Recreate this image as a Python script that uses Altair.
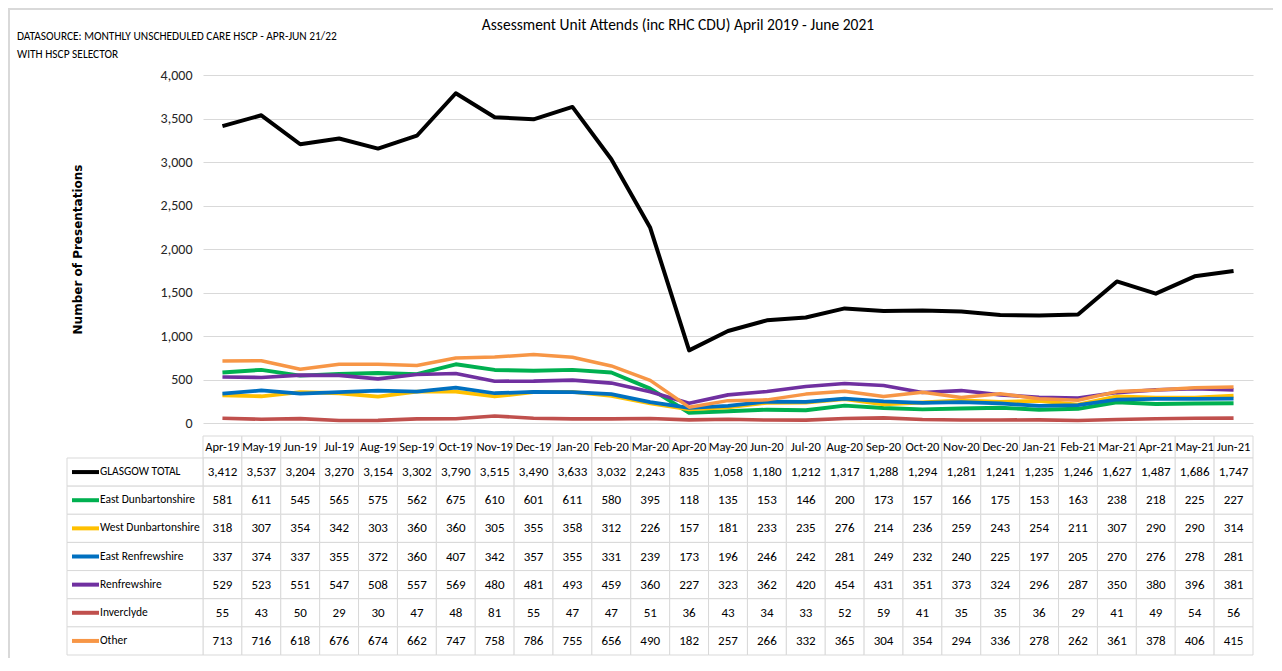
import altair as alt
import pandas as pd

months = ["Apr-19", "May-19", "Jun-19", "Jul-19", "Aug-19", "Sep-19", "Oct-19", "Nov-19", "Dec-19",
          "Jan-20", "Feb-20", "Mar-20", "Apr-20", "May-20", "Jun-20", "Jul-20", "Aug-20", "Sep-20",
          "Oct-20", "Nov-20", "Dec-20", "Jan-21", "Feb-21", "Mar-21", "Apr-21", "May-21", "Jun-21"]

series_names = ["GLASGOW TOTAL", "East Dunbartonshire", "West Dunbartonshire", "East Renfrewshire",
                "Renfrewshire", "Inverclyde", "Other"]

glasgow_total = [3412, 3537, 3204, 3270, 3154, 3302, 3790, 3515, 3490, 3633, 3032, 2243, 835, 1058,
                 1180, 1212, 1317, 1288, 1294, 1281, 1241, 1235, 1246, 1627, 1487, 1686, 1747]
east_dunbartonshire = [581, 611, 545, 565, 575, 562, 675, 610, 601, 611, 580, 395, 118, 135, 153, 146,
                       200, 173, 157, 166, 175, 153, 163, 238, 218, 225, 227]
west_dunbartonshire = [318, 307, 354, 342, 303, 360, 360, 305, 355, 358, 312, 226, 157, 181, 233, 235,
                       276, 214, 236, 259, 243, 254, 211, 307, 290, 290, 314]
east_renfrewshire = [337, 374, 337, 355, 372, 360, 407, 342, 357, 355, 331, 239, 173, 196, 246, 242,
                     281, 249, 232, 240, 225, 197, 205, 270, 276, 278, 281]
renfrewshire = [529, 523, 551, 547, 508, 557, 569, 480, 481, 493, 459, 360, 227, 323, 362, 420, 454,
                431, 351, 373, 324, 296, 287, 350, 380, 396, 381]
inverclyde = [55, 43, 50, 29, 30, 47, 48, 81, 55, 47, 47, 51, 36, 43, 34, 33, 52, 59, 41, 35, 35, 36,
              29, 41, 49, 54, 56]
other = [713, 716, 618, 676, 674, 662, 747, 758, 786, 755, 656, 490, 182, 257, 266, 332, 365, 304, 354,
         294, 336, 278, 262, 361, 378, 406, 415]

colors = ["#000000", "#00B050", "#FFC000", "#0070C0", "#7030A0", "#C0504D", "#F79646"]
line_widths = [4, 3.5, 3.5, 3.5, 3.5, 3.5, 3.5]

title_text = "Assessment Unit Attends (inc RHC CDU) April 2019 - June 2021"
source_lines = ["DATASOURCE: MONTHLY UNSCHEDULED CARE HSCP - APR-JUN 21/22", "WITH HSCP SELECTOR"]

all_vals = [glasgow_total, east_dunbartonshire, west_dunbartonshire, east_renfrewshire,
            renfrewshire, inverclyde, other]
rows = []
for name, vals in zip(series_names, all_vals):
    for m, v in zip(months, vals):
        rows.append({"month": m, "series": name, "value": v})
df = pd.DataFrame(rows)
hdr_df = pd.DataFrame({"month": months})
lbl_df = pd.DataFrame({"series": series_names})

FONT = "Carlito, Lato, sans-serif"
W, H = 1050, 580
PLOT_H = 348
HDR_TOP, ROW_TOP, ROW_BOT = 361, 383, 580
GRID = "#d9d9d9"

xscale = alt.Scale(type="band", domain=months, paddingInner=0, paddingOuter=0)
x_enc = alt.X("month:N", scale=xscale, axis=None)
color = alt.Color("series:N", scale=alt.Scale(domain=series_names, range=colors), legend=None)
row_y = alt.Y("series:N", scale=alt.Scale(type="band", domain=series_names, range=[ROW_TOP, ROW_BOT],
                                         paddingInner=0, paddingOuter=0), axis=None)

lines = alt.Chart(df).mark_line(strokeJoin="round").encode(
    x=x_enc,
    y=alt.Y("value:Q",
            scale=alt.Scale(domain=[0, 4000], range=[PLOT_H, 0], nice=False, zero=True),
            axis=alt.Axis(values=list(range(0, 4001, 500)), format=",.0f", grid=True, gridColor=GRID,
                          domain=False, ticks=False, labelPadding=11, labelFont=FONT, labelFontSize=14,
                          labelColor="#262626", title="Number of Presentations",
                          titleFont="DejaVu Sans", titleFontSize=12, titleFontWeight="bold",
                          titleColor="#000000", titleX=-126, titleY=PLOT_H / 2, titleAngle=-90,
                          titleAlign="center", titleBaseline="middle")),
    color=color,
    strokeWidth=alt.StrokeWidth("series:N", scale=alt.Scale(domain=series_names, range=line_widths),
                                legend=None),
)

cells = alt.Chart(df).mark_rect(fill="white", stroke=GRID, strokeWidth=1).encode(x=x_enc, y=row_y)
values = alt.Chart(df).mark_text(font=FONT, fontSize=13, color="#000000", baseline="middle").encode(
    x=x_enc, y=row_y, text=alt.Text("value:Q", format=",.0f"))

hdr_cells = alt.Chart(hdr_df).mark_rect(fill="white", stroke=GRID, strokeWidth=1).encode(
    x=x_enc, y=alt.value(HDR_TOP), y2=alt.value(ROW_TOP))
hdr_text = alt.Chart(hdr_df).mark_text(font=FONT, fontSize=12.5, color="#000000", baseline="middle").encode(
    x=x_enc, y=alt.value((HDR_TOP + ROW_TOP) / 2), text="month:N")

lbl_cells = alt.Chart(lbl_df).mark_rect(fill="white", stroke=GRID, strokeWidth=1).encode(
    x=alt.value(-136), x2=alt.value(0), y=row_y)
lbl_keys = alt.Chart(lbl_df).mark_rule(strokeWidth=4).encode(
    x=alt.value(-131), x2=alt.value(-104), y=row_y, color=color)
lbl_text = alt.Chart(lbl_df).mark_text(font=FONT, fontSize=11.5, color="#000000", align="left",
                                       baseline="middle").encode(
    x=alt.value(-103), y=row_y, text="series:N")

frame = alt.Chart(pd.DataFrame({"a": [0]})).mark_rect(fill="transparent", stroke=GRID, strokeWidth=2).encode(
    x=alt.value(-194), x2=alt.value(1100), y=alt.value(-66), y2=alt.value(650))

title = alt.Chart(pd.DataFrame({"t": [title_text]})).mark_text(
    font=FONT, fontSize=15.5, color="#000000", align="center", baseline="middle").encode(
    x=alt.value(475), y=alt.value(-50), text="t:N")
src1 = alt.Chart(pd.DataFrame({"t": [source_lines[0]]})).mark_text(
    font=FONT, fontSize=11.4, color="#000000", align="left", baseline="alphabetic").encode(
    x=alt.value(-186), y=alt.value(-35), text="t:N")
src2 = alt.Chart(pd.DataFrame({"t": [source_lines[1]]})).mark_text(
    font=FONT, fontSize=11.4, color="#000000", align="left", baseline="alphabetic").encode(
    x=alt.value(-186), y=alt.value(-17), text="t:N")

chart = alt.layer(
    frame, lines, hdr_cells, hdr_text, cells, values, lbl_cells, lbl_keys, lbl_text, title, src1, src2
).resolve_scale(y="independent").properties(
    width=W, height=H,
    autosize=alt.AutoSizeParams(type="none"),
    padding={"left": 195, "top": 67, "right": 20, "bottom": 3},
    background="white",
).configure_view(stroke=None)

chart.save("out.html", embed_options={"renderer": "svg", "actions": False})
